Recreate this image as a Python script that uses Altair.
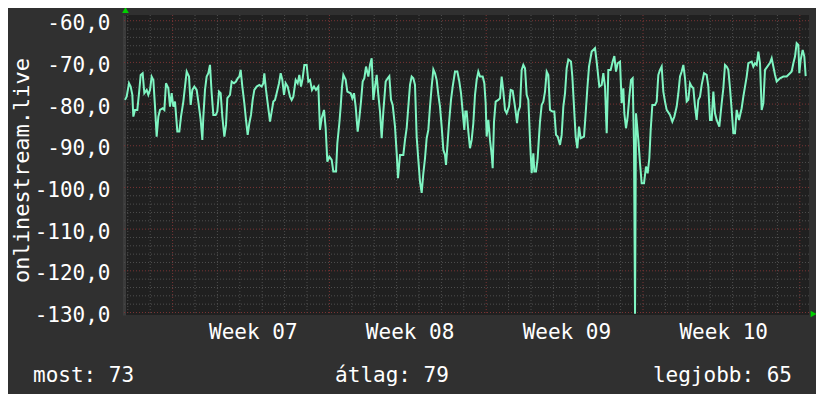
import altair as alt
import pandas as pd

# ---- data (x = days since left edge of graph) ----
days_a = [0.045,0.119,0.223,0.298,0.372,0.417,0.491,0.595,0.685,0.744,0.833,0.908,1.012,1.086,1.161,1.235,1.310,1.384,1.458,1.533,1.607,1.726,1.801,1.875,1.979,2.054,2.128,2.202,2.277,2.381,2.470,2.545,2.649,2.723,2.798,2.902,2.976,3.051,3.140,3.244,3.318,3.423,3.497,3.542,3.616,3.690,3.765,3.839,3.914,3.988,4.092,4.167,4.241,4.315,4.390,4.479,4.554,4.613,4.732,4.807,4.911,5.000,5.074,5.149,5.208,5.283,5.372,5.446,5.521,5.595,5.670,5.744,5.818,5.923,6.042,6.146,6.220,6.265,6.339,6.414,6.518,6.592,6.667,6.741,6.815,6.920,6.994,7.068,7.143,7.217,7.307,7.411,7.485,7.560,7.664,7.753,7.827,7.902,7.976,8.051,8.155,8.229,8.304,8.393,8.482,8.571,8.676,8.750,8.824,8.929,9.003,9.077,9.167,9.271,9.345,9.464,9.524,9.613,9.673,9.732,9.792,9.896,9.970]
vals_a = [-79.0,-78.2,-75.0,-75.8,-77.8,-83.0,-81.4,-81.4,-76.6,-73.0,-72.6,-77.4,-76.6,-77.8,-76.6,-73.4,-74.2,-80.6,-87.8,-83.0,-81.4,-81.0,-81.4,-75.0,-76.2,-80.6,-77.4,-80.6,-79.4,-86.6,-86.6,-83.0,-79.4,-75.8,-72.2,-73.4,-80.2,-76.6,-75.8,-76.6,-79.4,-83.8,-88.6,-83.0,-76.6,-73.4,-72.6,-70.6,-77.4,-82.6,-82.6,-81.8,-77.0,-77.4,-83.0,-87.8,-85.0,-78.6,-77.8,-74.6,-75.0,-74.6,-73.8,-73.4,-71.8,-75.8,-79.8,-83.8,-87.4,-84.6,-82.6,-79.0,-76.6,-75.8,-75.4,-75.8,-75.0,-72.6,-76.6,-79.8,-84.2,-81.8,-79.4,-79.0,-77.4,-75.0,-72.6,-74.2,-77.8,-75.0,-75.8,-78.2,-79.0,-78.2,-74.2,-75.0,-73.0,-75.8,-73.8,-70.6,-70.6,-74.6,-74.2,-76.6,-75.8,-76.6,-75.8,-86.2,-83.4,-81.4,-85.8,-93.8,-92.6,-93.4,-96.2,-96.2,-89.4,-84.6,-80.6,-75.8,-73.0,-74.2,-77.0]

days_b = [10.119,10.193,10.268,10.342,10.432,10.506,10.580,10.655,10.729,10.804,10.908,10.982,11.057,11.131,11.205,11.280,11.354,11.429,11.503,11.577,11.682,11.771,11.845,11.920,11.994,12.098,12.173,12.232,12.321,12.470,12.545,12.619,12.693,12.768,12.842,12.917,12.991,13.065,13.140,13.214,13.289,13.363,13.438,13.512,13.586,13.661,13.735,13.810,13.884,13.958,14.033,14.107,14.182,14.256,14.330,14.375,14.435,14.509,14.598,14.673,14.777,14.881,14.970,15.045,15.119,15.193,15.238,15.298,15.372,15.446,15.521,15.595,15.670,15.744,15.818,15.893,16.012,16.086,16.146,16.190,16.265,16.339,16.414,16.458,16.518,16.592,16.711,16.786,16.860,16.935,17.009,17.083,17.188,17.262,17.351,17.411,17.485,17.545,17.604,17.679,17.753,17.827,17.902,17.976,18.051,18.125,18.199,18.274,18.318,18.393,18.467,18.527,18.571,18.646,18.720,18.795,18.869,18.943,19.018,19.122,19.211,19.286,19.360,19.464]
vals_b = [-77.4,-78.6,-77.4,-80.6,-86.6,-83.4,-79.4,-74.6,-73.8,-71.0,-73.4,-70.6,-69.0,-79.0,-75.8,-73.0,-77.8,-81.8,-88.2,-81.8,-74.6,-73.8,-73.3,-79.0,-80.2,-85.4,-91.8,-97.8,-92.2,-92.2,-88.6,-85.8,-80.6,-75.4,-73.4,-73.8,-75.4,-87.8,-93.4,-98.6,-101.3,-96.6,-93.0,-88.2,-86.2,-80.6,-75.8,-71.7,-72.6,-74.2,-77.8,-80.6,-85.4,-91.0,-92.2,-94.6,-90.2,-84.6,-79.0,-75.8,-72.2,-72.2,-74.6,-77.4,-81.8,-86.2,-81.8,-81.8,-86.6,-90.6,-88.6,-84.6,-77.8,-74.2,-72.2,-73.4,-73.4,-75.0,-79.8,-87.8,-83.8,-88.6,-92.2,-95.4,-84.2,-79.4,-79.0,-78.6,-73.4,-77.0,-81.4,-82.2,-80.6,-76.6,-76.8,-79.0,-81.8,-84.6,-81.8,-80.6,-71.8,-70.6,-71.4,-77.8,-79.0,-88.6,-96.6,-91.8,-96.2,-96.2,-93.0,-87.8,-84.2,-80.2,-79.4,-77.0,-72.2,-73.0,-81.4,-81.8,-81.8,-87.4,-87.8,-89.8]

days_c = [19.539,19.613,19.688,19.762,19.836,19.955,20.015,20.089,20.164,20.238,20.313,20.387,20.536,20.610,20.685,20.759,20.878,21.027,21.101,21.220,21.324,21.399,21.473,21.548,21.622,21.726,21.815,21.890,21.964,22.039,22.143,22.217,22.292,22.336,22.411,22.485,22.560,22.634,22.708,22.768,22.813,22.857,22.961,23.036,23.110,23.214,23.304,23.378,23.452,23.512,23.586,23.705,23.780,23.854,23.929,24.003,24.077,24.152,24.226,24.375,24.479,24.568,24.673,24.747,24.821,24.896,24.970,25.045,25.119,25.193,25.268,25.342,25.417,25.491,25.565,25.640,25.714,25.789,25.893,26.012,26.086,26.161,26.235,26.310,26.384,26.458,26.577,26.682,26.756,26.830,26.905,26.979,27.054,27.128,27.202,27.277,27.351,27.455,27.574,27.649,27.723,27.798,27.872,28.021,28.095,28.170,28.244,28.318,28.393,28.467,28.542,28.616,28.720,28.839,28.914,28.988,29.063,29.137,29.286,29.435,29.583,29.732,29.807,29.881,29.955,30.030,30.104,30.149,30.208,30.298,30.372,30.432]
vals_c = [-87.4,-80.6,-77.4,-71.4,-69.3,-69.8,-73.4,-80.6,-87.8,-90.6,-85.4,-88.2,-87.8,-82.2,-76.2,-71.0,-67.4,-66.6,-69.8,-75.8,-75.4,-72.6,-75.8,-87.0,-71.8,-71.8,-69.8,-68.5,-72.2,-70.2,-69.8,-79.8,-76.2,-82.2,-85.8,-83.0,-78.2,-74.2,-73.8,-90.2,-130.3,-82.2,-88.6,-94.2,-99.0,-99.0,-95.0,-96.6,-93.0,-86.2,-80.2,-80.2,-79.4,-73.0,-71.8,-71.0,-77.0,-79.4,-81.4,-82.6,-84.2,-83.0,-80.6,-77.4,-73.4,-72.2,-70.6,-73.8,-79.4,-79.0,-75.0,-75.8,-76.2,-80.6,-83.8,-79.0,-78.2,-75.4,-72.6,-73.0,-75.8,-83.8,-83.8,-77.0,-82.2,-83.8,-85.4,-79.8,-76.2,-70.6,-71.0,-71.8,-76.2,-81.4,-87.0,-87.0,-81.4,-83.8,-81.0,-78.2,-75.8,-73.4,-70.2,-69.8,-71.0,-70.2,-70.6,-67.4,-70.2,-81.4,-79.8,-71.8,-71.0,-70.1,-69.0,-71.0,-73.0,-74.6,-73.8,-73.4,-73.4,-72.6,-72.2,-70.2,-68.6,-65.4,-65.8,-72.6,-69.4,-67.0,-68.6,-73.3]

assert len(days_a) == len(vals_a), (len(days_a), len(vals_a))
assert len(days_b) == len(vals_b), (len(days_b), len(vals_b))
assert len(days_c) == len(vals_c), (len(days_c), len(vals_c))

week_labels = ["Week 07", "Week 08", "Week 09", "Week 10"]
week_label_pos = [5.75, 12.75, 19.75, 26.75]   # mid-week label positions (days)
week_starts = [2.17, 9.17, 16.17, 23.17, 30.17] # Monday 00:00 (days)
y_title = "onlinestream.live"
legend_names = ["most", "átlag", "legjobb"]
legend_values = [73, 79, 65]

X_DOMAIN = [0, 30.58]
Y_DOMAIN = [-130.6, -58.63]

FONT = "DejaVu Sans Mono"
LINE = "#7ff5c2"
MAJOR = "#7a3434"
MINOR = "#4e4e4e"

series = pd.DataFrame({"day": days_a + days_b + days_c,
                       "value": vals_a + vals_b + vals_c})

# grid positions
minor_y = [v for v in range(-130, -59, 2) if v % 10 != 0]
major_y = list(range(-130, -59, 10))
minor_x = [round(0.17 + k, 2) for k in range(0, 31) if round(0.17 + k, 2) not in week_starts]

xs = alt.Scale(domain=X_DOMAIN, nice=False, zero=False)
ys = alt.Scale(domain=Y_DOMAIN, nice=False, zero=False)

dash = [1, 2]
g_minor_y = alt.Chart(pd.DataFrame({"v": minor_y})).mark_rule(color=MINOR, strokeDash=dash, strokeWidth=1).encode(
    y=alt.Y("v:Q", scale=ys))
g_minor_x = alt.Chart(pd.DataFrame({"d": minor_x})).mark_rule(color=MINOR, strokeDash=dash, strokeWidth=1).encode(
    x=alt.X("d:Q", scale=xs))
g_major_y = alt.Chart(pd.DataFrame({"v": major_y})).mark_rule(color=MAJOR, strokeDash=dash, strokeWidth=1).encode(
    y=alt.Y("v:Q", scale=ys))
g_major_x = alt.Chart(pd.DataFrame({"d": week_starts})).mark_rule(color=MAJOR, strokeDash=dash, strokeWidth=1).encode(
    x=alt.X("d:Q", scale=xs))

label_expr = " : ".join(
    f"datum.value < {p + 3.5} ? '{t}'" for p, t in zip(week_label_pos, week_labels)) + " : ''"

line = alt.Chart(series).mark_line(color=LINE, strokeWidth=2, clip=True).encode(
    x=alt.X("day:Q", scale=xs,
            axis=alt.Axis(values=week_label_pos, labelExpr=label_expr, grid=False, ticks=False,
                          domain=False, title=None, labelFont=FONT, labelFontSize=21,
                          labelColor="#ffffff", labelPadding=23, labelBaseline="alphabetic",
                          labelFlush=False, labelOverlap=False)),
    y=alt.Y("value:Q", scale=ys,
            axis=alt.Axis(values=major_y, labelExpr="datum.value + ',0'", grid=False, ticks=False,
                          domain=True, domainColor="#3c3c3c", domainWidth=3,
                          title=y_title, titleFont=FONT, titleFontSize=22, titleFontWeight="normal",
                          titleColor="#ffffff", titleAngle=270, titleAlign="center",
                          titleBaseline="middle", titleX=-103, titleY=155,
                          labelFont=FONT, labelFontSize=21, labelColor="#ffffff",
                          labelPadding=14, labelBaseline="middle", labelOffset=3,
                          labelFlush=False, labelOverlap=False)),
)

arrow_up = alt.Chart(pd.DataFrame({"a": [0]})).mark_point(
    shape="triangle-up", filled=True, color="#00d000", opacity=1, size=45).encode(
    x=alt.value(1.5), y=alt.value(-5))
arrow_right = alt.Chart(pd.DataFrame({"a": [0]})).mark_point(
    shape="triangle-right", filled=True, color="#00d000", opacity=1, size=45).encode(
    x=alt.value(689.5), y=alt.value(299))

legend_text = [f"{n}: {v}" for n, v in zip(legend_names, legend_values)]
leg_style = dict(font=FONT, fontSize=21, color="#ffffff", baseline="alphabetic")
leg1 = alt.Chart(pd.DataFrame({"t": [legend_text[0]]})).mark_text(align="left", **leg_style).encode(
    text="t:N", x=alt.value(-91), y=alt.value(367))
leg2 = alt.Chart(pd.DataFrame({"t": [legend_text[1]]})).mark_text(align="center", **leg_style).encode(
    text="t:N", x=alt.value(268), y=alt.value(367))
leg3 = alt.Chart(pd.DataFrame({"t": [legend_text[2]]})).mark_text(align="right", **leg_style).encode(
    text="t:N", x=alt.value(668), y=alt.value(367))

chart = alt.layer(
    g_minor_y, g_minor_x, g_major_y, g_major_x, line, arrow_up, arrow_right, leg1, leg2, leg3
).properties(
    width=685, height=300,
    background="#303030",
    autosize=alt.AutoSizeParams(type="none"),
    padding={"left": 116, "top": 7, "right": 7, "bottom": 79},
).configure_view(fill="#202020", stroke=None)

chart.save("out.html", embed_options={"renderer": "svg", "actions": False})
